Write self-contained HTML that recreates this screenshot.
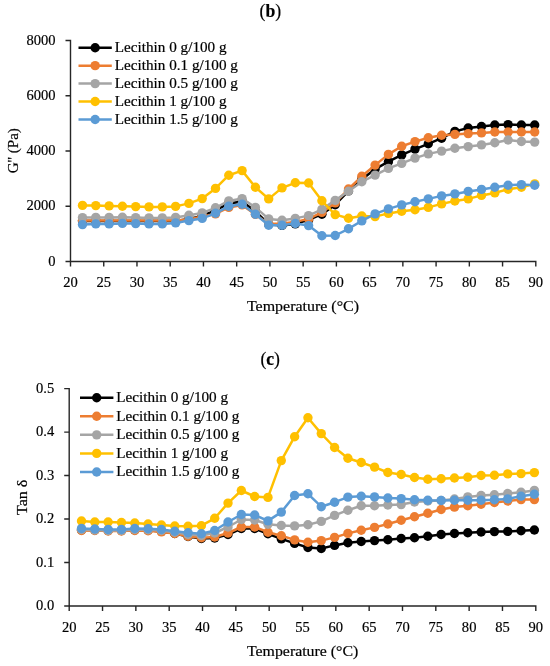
<!DOCTYPE html>
<html><head><meta charset="utf-8"><style>
html,body{margin:0;padding:0;background:#fff;width:550px;height:666px;overflow:hidden;position:relative}
</style></head><body>
<svg width="550" height="666" viewBox="0 0 550 666" style="position:absolute;left:0;top:0;will-change:transform" font-family="'Liberation Serif', serif" font-size="15.4" fill="#000">
<text stroke="#000" stroke-width="0.2" transform="translate(259.60,16.70) scale(0.9815,1)" font-size="18">(<tspan font-weight="bold">b</tspan>)</text>
<text stroke="#000" stroke-width="0.2" transform="translate(260.41,365.00) scale(0.9805,1)" font-size="18">(<tspan font-weight="bold">c</tspan>)</text>
<path d="M65.5,40.5 H70.5 V266.5 M65.5,261.5 H535.8 V266.5" fill="none" stroke="#262626" stroke-width="1.4"/>
<path d="M65.5,206.25 H70.5 M65.5,151.00 H70.5 M65.5,95.75 H70.5 M103.74,261.5 V266.5 M136.97,261.5 V266.5 M170.21,261.5 V266.5 M203.44,261.5 V266.5 M236.68,261.5 V266.5 M269.91,261.5 V266.5 M303.15,261.5 V266.5 M336.39,261.5 V266.5 M369.62,261.5 V266.5 M402.86,261.5 V266.5 M436.09,261.5 V266.5 M469.33,261.5 V266.5 M502.56,261.5 V266.5" fill="none" stroke="#262626" stroke-width="1.4"/>
<text stroke="#000" stroke-width="0.2" transform="translate(55.50,265.60) scale(0.945,1)" text-anchor="end" >0</text>
<text stroke="#000" stroke-width="0.2" transform="translate(55.50,210.35) scale(0.945,1)" text-anchor="end" >2000</text>
<text stroke="#000" stroke-width="0.2" transform="translate(55.50,155.10) scale(0.945,1)" text-anchor="end" >4000</text>
<text stroke="#000" stroke-width="0.2" transform="translate(55.50,99.85) scale(0.945,1)" text-anchor="end" >6000</text>
<text stroke="#000" stroke-width="0.2" transform="translate(55.50,44.60) scale(0.945,1)" text-anchor="end" >8000</text>
<text stroke="#000" stroke-width="0.2" transform="translate(70.50,286.70) scale(0.945,1)" text-anchor="middle" >20</text>
<text stroke="#000" stroke-width="0.2" transform="translate(103.74,286.70) scale(0.945,1)" text-anchor="middle" >25</text>
<text stroke="#000" stroke-width="0.2" transform="translate(136.97,286.70) scale(0.945,1)" text-anchor="middle" >30</text>
<text stroke="#000" stroke-width="0.2" transform="translate(170.21,286.70) scale(0.945,1)" text-anchor="middle" >35</text>
<text stroke="#000" stroke-width="0.2" transform="translate(203.44,286.70) scale(0.945,1)" text-anchor="middle" >40</text>
<text stroke="#000" stroke-width="0.2" transform="translate(236.68,286.70) scale(0.945,1)" text-anchor="middle" >45</text>
<text stroke="#000" stroke-width="0.2" transform="translate(269.91,286.70) scale(0.945,1)" text-anchor="middle" >50</text>
<text stroke="#000" stroke-width="0.2" transform="translate(303.15,286.70) scale(0.945,1)" text-anchor="middle" >55</text>
<text stroke="#000" stroke-width="0.2" transform="translate(336.39,286.70) scale(0.945,1)" text-anchor="middle" >60</text>
<text stroke="#000" stroke-width="0.2" transform="translate(369.62,286.70) scale(0.945,1)" text-anchor="middle" >65</text>
<text stroke="#000" stroke-width="0.2" transform="translate(402.86,286.70) scale(0.945,1)" text-anchor="middle" >70</text>
<text stroke="#000" stroke-width="0.2" transform="translate(436.09,286.70) scale(0.945,1)" text-anchor="middle" >75</text>
<text stroke="#000" stroke-width="0.2" transform="translate(469.33,286.70) scale(0.945,1)" text-anchor="middle" >80</text>
<text stroke="#000" stroke-width="0.2" transform="translate(502.56,286.70) scale(0.945,1)" text-anchor="middle" >85</text>
<text stroke="#000" stroke-width="0.2" transform="translate(535.80,286.70) scale(0.945,1)" text-anchor="middle" >90</text>
<polyline points="82.50,220.90 95.80,220.90 109.10,220.90 122.40,220.90 135.70,220.90 149.00,220.90 162.30,220.90 175.60,220.90 188.90,218.90 202.20,215.90 215.50,210.40 228.80,203.40 242.10,201.40 255.40,211.40 268.70,224.20 282.00,225.40 295.30,223.90 308.60,219.90 321.90,214.20 335.20,204.70 348.50,190.90 361.80,179.40 375.10,169.10 388.40,161.70 401.70,154.90 415.00,149.10 428.30,143.80 441.60,138.20 454.90,131.40 468.20,128.00 481.50,126.50 494.80,125.00 508.10,124.60 521.40,125.00 534.70,125.00" fill="none" stroke="#000000" stroke-width="2.5" stroke-linejoin="round"/><circle cx="82.50" cy="220.90" r="4.7" fill="#000000"/><circle cx="95.80" cy="220.90" r="4.7" fill="#000000"/><circle cx="109.10" cy="220.90" r="4.7" fill="#000000"/><circle cx="122.40" cy="220.90" r="4.7" fill="#000000"/><circle cx="135.70" cy="220.90" r="4.7" fill="#000000"/><circle cx="149.00" cy="220.90" r="4.7" fill="#000000"/><circle cx="162.30" cy="220.90" r="4.7" fill="#000000"/><circle cx="175.60" cy="220.90" r="4.7" fill="#000000"/><circle cx="188.90" cy="218.90" r="4.7" fill="#000000"/><circle cx="202.20" cy="215.90" r="4.7" fill="#000000"/><circle cx="215.50" cy="210.40" r="4.7" fill="#000000"/><circle cx="228.80" cy="203.40" r="4.7" fill="#000000"/><circle cx="242.10" cy="201.40" r="4.7" fill="#000000"/><circle cx="255.40" cy="211.40" r="4.7" fill="#000000"/><circle cx="268.70" cy="224.20" r="4.7" fill="#000000"/><circle cx="282.00" cy="225.40" r="4.7" fill="#000000"/><circle cx="295.30" cy="223.90" r="4.7" fill="#000000"/><circle cx="308.60" cy="219.90" r="4.7" fill="#000000"/><circle cx="321.90" cy="214.20" r="4.7" fill="#000000"/><circle cx="335.20" cy="204.70" r="4.7" fill="#000000"/><circle cx="348.50" cy="190.90" r="4.7" fill="#000000"/><circle cx="361.80" cy="179.40" r="4.7" fill="#000000"/><circle cx="375.10" cy="169.10" r="4.7" fill="#000000"/><circle cx="388.40" cy="161.70" r="4.7" fill="#000000"/><circle cx="401.70" cy="154.90" r="4.7" fill="#000000"/><circle cx="415.00" cy="149.10" r="4.7" fill="#000000"/><circle cx="428.30" cy="143.80" r="4.7" fill="#000000"/><circle cx="441.60" cy="138.20" r="4.7" fill="#000000"/><circle cx="454.90" cy="131.40" r="4.7" fill="#000000"/><circle cx="468.20" cy="128.00" r="4.7" fill="#000000"/><circle cx="481.50" cy="126.50" r="4.7" fill="#000000"/><circle cx="494.80" cy="125.00" r="4.7" fill="#000000"/><circle cx="508.10" cy="124.60" r="4.7" fill="#000000"/><circle cx="521.40" cy="125.00" r="4.7" fill="#000000"/><circle cx="534.70" cy="125.00" r="4.7" fill="#000000"/>
<polyline points="82.50,220.50 95.80,220.50 109.10,220.50 122.40,220.50 135.70,220.50 149.00,220.50 162.30,220.50 175.60,220.50 188.90,219.40 202.20,216.40 215.50,213.90 228.80,207.40 242.10,204.90 255.40,214.40 268.70,223.90 282.00,223.40 295.30,221.90 308.60,218.90 321.90,212.40 335.20,202.90 348.50,189.00 361.80,176.30 375.10,165.10 388.40,154.40 401.70,146.20 415.00,141.60 428.30,137.80 441.60,135.30 454.90,134.40 468.20,133.60 481.50,132.90 494.80,132.00 508.10,132.00 521.40,132.00 534.70,132.00" fill="none" stroke="#ED7D31" stroke-width="2.5" stroke-linejoin="round"/><circle cx="82.50" cy="220.50" r="4.7" fill="#ED7D31"/><circle cx="95.80" cy="220.50" r="4.7" fill="#ED7D31"/><circle cx="109.10" cy="220.50" r="4.7" fill="#ED7D31"/><circle cx="122.40" cy="220.50" r="4.7" fill="#ED7D31"/><circle cx="135.70" cy="220.50" r="4.7" fill="#ED7D31"/><circle cx="149.00" cy="220.50" r="4.7" fill="#ED7D31"/><circle cx="162.30" cy="220.50" r="4.7" fill="#ED7D31"/><circle cx="175.60" cy="220.50" r="4.7" fill="#ED7D31"/><circle cx="188.90" cy="219.40" r="4.7" fill="#ED7D31"/><circle cx="202.20" cy="216.40" r="4.7" fill="#ED7D31"/><circle cx="215.50" cy="213.90" r="4.7" fill="#ED7D31"/><circle cx="228.80" cy="207.40" r="4.7" fill="#ED7D31"/><circle cx="242.10" cy="204.90" r="4.7" fill="#ED7D31"/><circle cx="255.40" cy="214.40" r="4.7" fill="#ED7D31"/><circle cx="268.70" cy="223.90" r="4.7" fill="#ED7D31"/><circle cx="282.00" cy="223.40" r="4.7" fill="#ED7D31"/><circle cx="295.30" cy="221.90" r="4.7" fill="#ED7D31"/><circle cx="308.60" cy="218.90" r="4.7" fill="#ED7D31"/><circle cx="321.90" cy="212.40" r="4.7" fill="#ED7D31"/><circle cx="335.20" cy="202.90" r="4.7" fill="#ED7D31"/><circle cx="348.50" cy="189.00" r="4.7" fill="#ED7D31"/><circle cx="361.80" cy="176.30" r="4.7" fill="#ED7D31"/><circle cx="375.10" cy="165.10" r="4.7" fill="#ED7D31"/><circle cx="388.40" cy="154.40" r="4.7" fill="#ED7D31"/><circle cx="401.70" cy="146.20" r="4.7" fill="#ED7D31"/><circle cx="415.00" cy="141.60" r="4.7" fill="#ED7D31"/><circle cx="428.30" cy="137.80" r="4.7" fill="#ED7D31"/><circle cx="441.60" cy="135.30" r="4.7" fill="#ED7D31"/><circle cx="454.90" cy="134.40" r="4.7" fill="#ED7D31"/><circle cx="468.20" cy="133.60" r="4.7" fill="#ED7D31"/><circle cx="481.50" cy="132.90" r="4.7" fill="#ED7D31"/><circle cx="494.80" cy="132.00" r="4.7" fill="#ED7D31"/><circle cx="508.10" cy="132.00" r="4.7" fill="#ED7D31"/><circle cx="521.40" cy="132.00" r="4.7" fill="#ED7D31"/><circle cx="534.70" cy="132.00" r="4.7" fill="#ED7D31"/>
<polyline points="82.50,217.60 95.80,217.40 109.10,217.40 122.40,217.20 135.70,217.60 149.00,217.90 162.30,217.90 175.60,217.40 188.90,215.20 202.20,212.90 215.50,207.80 228.80,200.90 242.10,198.60 255.40,207.40 268.70,218.90 282.00,220.20 295.30,218.40 308.60,215.60 321.90,209.40 335.20,200.40 348.50,191.30 361.80,181.70 375.10,175.10 388.40,168.40 401.70,163.40 415.00,158.10 428.30,153.90 441.60,151.10 454.90,148.30 468.20,146.60 481.50,144.90 494.80,142.70 508.10,140.00 521.40,141.50 534.70,142.10" fill="none" stroke="#A5A5A5" stroke-width="2.5" stroke-linejoin="round"/><circle cx="82.50" cy="217.60" r="4.7" fill="#A5A5A5"/><circle cx="95.80" cy="217.40" r="4.7" fill="#A5A5A5"/><circle cx="109.10" cy="217.40" r="4.7" fill="#A5A5A5"/><circle cx="122.40" cy="217.20" r="4.7" fill="#A5A5A5"/><circle cx="135.70" cy="217.60" r="4.7" fill="#A5A5A5"/><circle cx="149.00" cy="217.90" r="4.7" fill="#A5A5A5"/><circle cx="162.30" cy="217.90" r="4.7" fill="#A5A5A5"/><circle cx="175.60" cy="217.40" r="4.7" fill="#A5A5A5"/><circle cx="188.90" cy="215.20" r="4.7" fill="#A5A5A5"/><circle cx="202.20" cy="212.90" r="4.7" fill="#A5A5A5"/><circle cx="215.50" cy="207.80" r="4.7" fill="#A5A5A5"/><circle cx="228.80" cy="200.90" r="4.7" fill="#A5A5A5"/><circle cx="242.10" cy="198.60" r="4.7" fill="#A5A5A5"/><circle cx="255.40" cy="207.40" r="4.7" fill="#A5A5A5"/><circle cx="268.70" cy="218.90" r="4.7" fill="#A5A5A5"/><circle cx="282.00" cy="220.20" r="4.7" fill="#A5A5A5"/><circle cx="295.30" cy="218.40" r="4.7" fill="#A5A5A5"/><circle cx="308.60" cy="215.60" r="4.7" fill="#A5A5A5"/><circle cx="321.90" cy="209.40" r="4.7" fill="#A5A5A5"/><circle cx="335.20" cy="200.40" r="4.7" fill="#A5A5A5"/><circle cx="348.50" cy="191.30" r="4.7" fill="#A5A5A5"/><circle cx="361.80" cy="181.70" r="4.7" fill="#A5A5A5"/><circle cx="375.10" cy="175.10" r="4.7" fill="#A5A5A5"/><circle cx="388.40" cy="168.40" r="4.7" fill="#A5A5A5"/><circle cx="401.70" cy="163.40" r="4.7" fill="#A5A5A5"/><circle cx="415.00" cy="158.10" r="4.7" fill="#A5A5A5"/><circle cx="428.30" cy="153.90" r="4.7" fill="#A5A5A5"/><circle cx="441.60" cy="151.10" r="4.7" fill="#A5A5A5"/><circle cx="454.90" cy="148.30" r="4.7" fill="#A5A5A5"/><circle cx="468.20" cy="146.60" r="4.7" fill="#A5A5A5"/><circle cx="481.50" cy="144.90" r="4.7" fill="#A5A5A5"/><circle cx="494.80" cy="142.70" r="4.7" fill="#A5A5A5"/><circle cx="508.10" cy="140.00" r="4.7" fill="#A5A5A5"/><circle cx="521.40" cy="141.50" r="4.7" fill="#A5A5A5"/><circle cx="534.70" cy="142.10" r="4.7" fill="#A5A5A5"/>
<polyline points="82.50,205.40 95.80,205.60 109.10,205.90 122.40,206.20 135.70,206.60 149.00,206.90 162.30,206.90 175.60,206.40 188.90,203.40 202.20,198.60 215.50,188.40 228.80,175.20 242.10,170.60 255.40,187.30 268.70,198.90 282.00,187.90 295.30,182.80 308.60,183.00 321.90,200.80 335.20,214.60 348.50,218.30 361.80,216.00 375.10,216.60 388.40,213.40 401.70,211.20 415.00,209.70 428.30,207.40 441.60,203.90 454.90,201.00 468.20,198.90 481.50,195.40 494.80,192.90 508.10,189.20 521.40,187.20 534.70,183.90" fill="none" stroke="#FFC000" stroke-width="2.5" stroke-linejoin="round"/><circle cx="82.50" cy="205.40" r="4.7" fill="#FFC000"/><circle cx="95.80" cy="205.60" r="4.7" fill="#FFC000"/><circle cx="109.10" cy="205.90" r="4.7" fill="#FFC000"/><circle cx="122.40" cy="206.20" r="4.7" fill="#FFC000"/><circle cx="135.70" cy="206.60" r="4.7" fill="#FFC000"/><circle cx="149.00" cy="206.90" r="4.7" fill="#FFC000"/><circle cx="162.30" cy="206.90" r="4.7" fill="#FFC000"/><circle cx="175.60" cy="206.40" r="4.7" fill="#FFC000"/><circle cx="188.90" cy="203.40" r="4.7" fill="#FFC000"/><circle cx="202.20" cy="198.60" r="4.7" fill="#FFC000"/><circle cx="215.50" cy="188.40" r="4.7" fill="#FFC000"/><circle cx="228.80" cy="175.20" r="4.7" fill="#FFC000"/><circle cx="242.10" cy="170.60" r="4.7" fill="#FFC000"/><circle cx="255.40" cy="187.30" r="4.7" fill="#FFC000"/><circle cx="268.70" cy="198.90" r="4.7" fill="#FFC000"/><circle cx="282.00" cy="187.90" r="4.7" fill="#FFC000"/><circle cx="295.30" cy="182.80" r="4.7" fill="#FFC000"/><circle cx="308.60" cy="183.00" r="4.7" fill="#FFC000"/><circle cx="321.90" cy="200.80" r="4.7" fill="#FFC000"/><circle cx="335.20" cy="214.60" r="4.7" fill="#FFC000"/><circle cx="348.50" cy="218.30" r="4.7" fill="#FFC000"/><circle cx="361.80" cy="216.00" r="4.7" fill="#FFC000"/><circle cx="375.10" cy="216.60" r="4.7" fill="#FFC000"/><circle cx="388.40" cy="213.40" r="4.7" fill="#FFC000"/><circle cx="401.70" cy="211.20" r="4.7" fill="#FFC000"/><circle cx="415.00" cy="209.70" r="4.7" fill="#FFC000"/><circle cx="428.30" cy="207.40" r="4.7" fill="#FFC000"/><circle cx="441.60" cy="203.90" r="4.7" fill="#FFC000"/><circle cx="454.90" cy="201.00" r="4.7" fill="#FFC000"/><circle cx="468.20" cy="198.90" r="4.7" fill="#FFC000"/><circle cx="481.50" cy="195.40" r="4.7" fill="#FFC000"/><circle cx="494.80" cy="192.90" r="4.7" fill="#FFC000"/><circle cx="508.10" cy="189.20" r="4.7" fill="#FFC000"/><circle cx="521.40" cy="187.20" r="4.7" fill="#FFC000"/><circle cx="534.70" cy="183.90" r="4.7" fill="#FFC000"/>
<polyline points="82.50,224.60 95.80,223.90 109.10,223.90 122.40,223.40 135.70,223.60 149.00,223.90 162.30,223.90 175.60,222.90 188.90,220.60 202.20,218.40 215.50,213.30 228.80,206.20 242.10,204.30 255.40,214.20 268.70,225.20 282.00,225.20 295.30,223.50 308.60,225.60 321.90,235.70 335.20,235.50 348.50,228.80 361.80,220.90 375.10,213.90 388.40,208.90 401.70,204.90 415.00,201.70 428.30,198.90 441.60,195.90 454.90,193.90 468.20,191.40 481.50,189.40 494.80,187.30 508.10,185.20 521.40,184.60 534.70,185.20" fill="none" stroke="#5B9BD5" stroke-width="2.5" stroke-linejoin="round"/><circle cx="82.50" cy="224.60" r="4.7" fill="#5B9BD5"/><circle cx="95.80" cy="223.90" r="4.7" fill="#5B9BD5"/><circle cx="109.10" cy="223.90" r="4.7" fill="#5B9BD5"/><circle cx="122.40" cy="223.40" r="4.7" fill="#5B9BD5"/><circle cx="135.70" cy="223.60" r="4.7" fill="#5B9BD5"/><circle cx="149.00" cy="223.90" r="4.7" fill="#5B9BD5"/><circle cx="162.30" cy="223.90" r="4.7" fill="#5B9BD5"/><circle cx="175.60" cy="222.90" r="4.7" fill="#5B9BD5"/><circle cx="188.90" cy="220.60" r="4.7" fill="#5B9BD5"/><circle cx="202.20" cy="218.40" r="4.7" fill="#5B9BD5"/><circle cx="215.50" cy="213.30" r="4.7" fill="#5B9BD5"/><circle cx="228.80" cy="206.20" r="4.7" fill="#5B9BD5"/><circle cx="242.10" cy="204.30" r="4.7" fill="#5B9BD5"/><circle cx="255.40" cy="214.20" r="4.7" fill="#5B9BD5"/><circle cx="268.70" cy="225.20" r="4.7" fill="#5B9BD5"/><circle cx="282.00" cy="225.20" r="4.7" fill="#5B9BD5"/><circle cx="295.30" cy="223.50" r="4.7" fill="#5B9BD5"/><circle cx="308.60" cy="225.60" r="4.7" fill="#5B9BD5"/><circle cx="321.90" cy="235.70" r="4.7" fill="#5B9BD5"/><circle cx="335.20" cy="235.50" r="4.7" fill="#5B9BD5"/><circle cx="348.50" cy="228.80" r="4.7" fill="#5B9BD5"/><circle cx="361.80" cy="220.90" r="4.7" fill="#5B9BD5"/><circle cx="375.10" cy="213.90" r="4.7" fill="#5B9BD5"/><circle cx="388.40" cy="208.90" r="4.7" fill="#5B9BD5"/><circle cx="401.70" cy="204.90" r="4.7" fill="#5B9BD5"/><circle cx="415.00" cy="201.70" r="4.7" fill="#5B9BD5"/><circle cx="428.30" cy="198.90" r="4.7" fill="#5B9BD5"/><circle cx="441.60" cy="195.90" r="4.7" fill="#5B9BD5"/><circle cx="454.90" cy="193.90" r="4.7" fill="#5B9BD5"/><circle cx="468.20" cy="191.40" r="4.7" fill="#5B9BD5"/><circle cx="481.50" cy="189.40" r="4.7" fill="#5B9BD5"/><circle cx="494.80" cy="187.30" r="4.7" fill="#5B9BD5"/><circle cx="508.10" cy="185.20" r="4.7" fill="#5B9BD5"/><circle cx="521.40" cy="184.60" r="4.7" fill="#5B9BD5"/><circle cx="534.70" cy="185.20" r="4.7" fill="#5B9BD5"/>
<path d="M64.2,388.6 H69.2 V611.0 M64.2,606.0 H535.8 V611.0" fill="none" stroke="#262626" stroke-width="1.4"/>
<path d="M64.2,562.52 H69.2 M64.2,519.04 H69.2 M64.2,475.56 H69.2 M64.2,432.08 H69.2 M102.53,606.0 V611.0 M135.86,606.0 V611.0 M169.19,606.0 V611.0 M202.51,606.0 V611.0 M235.84,606.0 V611.0 M269.17,606.0 V611.0 M302.50,606.0 V611.0 M335.83,606.0 V611.0 M369.16,606.0 V611.0 M402.49,606.0 V611.0 M435.81,606.0 V611.0 M469.14,606.0 V611.0 M502.47,606.0 V611.0" fill="none" stroke="#262626" stroke-width="1.4"/>
<text stroke="#000" stroke-width="0.2" transform="translate(54.20,610.10) scale(0.945,1)" text-anchor="end" >0.0</text>
<text stroke="#000" stroke-width="0.2" transform="translate(54.20,566.62) scale(0.945,1)" text-anchor="end" >0.1</text>
<text stroke="#000" stroke-width="0.2" transform="translate(54.20,523.14) scale(0.945,1)" text-anchor="end" >0.2</text>
<text stroke="#000" stroke-width="0.2" transform="translate(54.20,479.66) scale(0.945,1)" text-anchor="end" >0.3</text>
<text stroke="#000" stroke-width="0.2" transform="translate(54.20,436.18) scale(0.945,1)" text-anchor="end" >0.4</text>
<text stroke="#000" stroke-width="0.2" transform="translate(54.20,392.70) scale(0.945,1)" text-anchor="end" >0.5</text>
<text stroke="#000" stroke-width="0.2" transform="translate(69.20,632.10) scale(0.945,1)" text-anchor="middle" >20</text>
<text stroke="#000" stroke-width="0.2" transform="translate(102.53,632.10) scale(0.945,1)" text-anchor="middle" >25</text>
<text stroke="#000" stroke-width="0.2" transform="translate(135.86,632.10) scale(0.945,1)" text-anchor="middle" >30</text>
<text stroke="#000" stroke-width="0.2" transform="translate(169.19,632.10) scale(0.945,1)" text-anchor="middle" >35</text>
<text stroke="#000" stroke-width="0.2" transform="translate(202.51,632.10) scale(0.945,1)" text-anchor="middle" >40</text>
<text stroke="#000" stroke-width="0.2" transform="translate(235.84,632.10) scale(0.945,1)" text-anchor="middle" >45</text>
<text stroke="#000" stroke-width="0.2" transform="translate(269.17,632.10) scale(0.945,1)" text-anchor="middle" >50</text>
<text stroke="#000" stroke-width="0.2" transform="translate(302.50,632.10) scale(0.945,1)" text-anchor="middle" >55</text>
<text stroke="#000" stroke-width="0.2" transform="translate(335.83,632.10) scale(0.945,1)" text-anchor="middle" >60</text>
<text stroke="#000" stroke-width="0.2" transform="translate(369.16,632.10) scale(0.945,1)" text-anchor="middle" >65</text>
<text stroke="#000" stroke-width="0.2" transform="translate(402.49,632.10) scale(0.945,1)" text-anchor="middle" >70</text>
<text stroke="#000" stroke-width="0.2" transform="translate(435.81,632.10) scale(0.945,1)" text-anchor="middle" >75</text>
<text stroke="#000" stroke-width="0.2" transform="translate(469.14,632.10) scale(0.945,1)" text-anchor="middle" >80</text>
<text stroke="#000" stroke-width="0.2" transform="translate(502.47,632.10) scale(0.945,1)" text-anchor="middle" >85</text>
<text stroke="#000" stroke-width="0.2" transform="translate(535.80,632.10) scale(0.945,1)" text-anchor="middle" >90</text>
<polyline points="81.50,530.00 94.82,530.00 108.14,530.50 121.46,530.50 134.78,530.00 148.10,530.30 161.42,531.40 174.74,533.50 188.06,536.50 201.38,538.50 214.70,538.00 228.02,534.50 241.34,528.50 254.66,528.50 267.98,533.80 281.30,538.90 294.62,543.40 307.94,547.50 321.26,548.50 334.58,545.40 347.90,542.80 361.22,541.50 374.54,540.60 387.86,539.70 401.18,538.50 414.50,537.70 427.82,536.30 441.14,534.50 454.46,533.50 467.78,532.70 481.10,532.00 494.42,531.60 507.74,531.40 521.06,530.70 534.38,530.00" fill="none" stroke="#000000" stroke-width="2.5" stroke-linejoin="round"/><circle cx="81.50" cy="530.00" r="4.7" fill="#000000"/><circle cx="94.82" cy="530.00" r="4.7" fill="#000000"/><circle cx="108.14" cy="530.50" r="4.7" fill="#000000"/><circle cx="121.46" cy="530.50" r="4.7" fill="#000000"/><circle cx="134.78" cy="530.00" r="4.7" fill="#000000"/><circle cx="148.10" cy="530.30" r="4.7" fill="#000000"/><circle cx="161.42" cy="531.40" r="4.7" fill="#000000"/><circle cx="174.74" cy="533.50" r="4.7" fill="#000000"/><circle cx="188.06" cy="536.50" r="4.7" fill="#000000"/><circle cx="201.38" cy="538.50" r="4.7" fill="#000000"/><circle cx="214.70" cy="538.00" r="4.7" fill="#000000"/><circle cx="228.02" cy="534.50" r="4.7" fill="#000000"/><circle cx="241.34" cy="528.50" r="4.7" fill="#000000"/><circle cx="254.66" cy="528.50" r="4.7" fill="#000000"/><circle cx="267.98" cy="533.80" r="4.7" fill="#000000"/><circle cx="281.30" cy="538.90" r="4.7" fill="#000000"/><circle cx="294.62" cy="543.40" r="4.7" fill="#000000"/><circle cx="307.94" cy="547.50" r="4.7" fill="#000000"/><circle cx="321.26" cy="548.50" r="4.7" fill="#000000"/><circle cx="334.58" cy="545.40" r="4.7" fill="#000000"/><circle cx="347.90" cy="542.80" r="4.7" fill="#000000"/><circle cx="361.22" cy="541.50" r="4.7" fill="#000000"/><circle cx="374.54" cy="540.60" r="4.7" fill="#000000"/><circle cx="387.86" cy="539.70" r="4.7" fill="#000000"/><circle cx="401.18" cy="538.50" r="4.7" fill="#000000"/><circle cx="414.50" cy="537.70" r="4.7" fill="#000000"/><circle cx="427.82" cy="536.30" r="4.7" fill="#000000"/><circle cx="441.14" cy="534.50" r="4.7" fill="#000000"/><circle cx="454.46" cy="533.50" r="4.7" fill="#000000"/><circle cx="467.78" cy="532.70" r="4.7" fill="#000000"/><circle cx="481.10" cy="532.00" r="4.7" fill="#000000"/><circle cx="494.42" cy="531.60" r="4.7" fill="#000000"/><circle cx="507.74" cy="531.40" r="4.7" fill="#000000"/><circle cx="521.06" cy="530.70" r="4.7" fill="#000000"/><circle cx="534.38" cy="530.00" r="4.7" fill="#000000"/>
<polyline points="81.50,530.50 94.82,530.50 108.14,531.00 121.46,531.00 134.78,530.50 148.10,530.80 161.42,531.90 174.74,533.50 188.06,536.20 201.38,537.80 214.70,537.00 228.02,533.00 241.34,527.00 254.66,527.00 267.98,532.20 281.30,535.70 294.62,539.90 307.94,542.20 321.26,540.60 334.58,537.40 347.90,533.40 361.22,530.20 374.54,527.40 387.86,524.00 401.18,520.20 414.50,516.80 427.82,513.20 441.14,509.50 454.46,507.10 467.78,505.70 481.10,504.30 494.42,502.50 507.74,501.00 521.06,499.60 534.38,499.60" fill="none" stroke="#ED7D31" stroke-width="2.5" stroke-linejoin="round"/><circle cx="81.50" cy="530.50" r="4.7" fill="#ED7D31"/><circle cx="94.82" cy="530.50" r="4.7" fill="#ED7D31"/><circle cx="108.14" cy="531.00" r="4.7" fill="#ED7D31"/><circle cx="121.46" cy="531.00" r="4.7" fill="#ED7D31"/><circle cx="134.78" cy="530.50" r="4.7" fill="#ED7D31"/><circle cx="148.10" cy="530.80" r="4.7" fill="#ED7D31"/><circle cx="161.42" cy="531.90" r="4.7" fill="#ED7D31"/><circle cx="174.74" cy="533.50" r="4.7" fill="#ED7D31"/><circle cx="188.06" cy="536.20" r="4.7" fill="#ED7D31"/><circle cx="201.38" cy="537.80" r="4.7" fill="#ED7D31"/><circle cx="214.70" cy="537.00" r="4.7" fill="#ED7D31"/><circle cx="228.02" cy="533.00" r="4.7" fill="#ED7D31"/><circle cx="241.34" cy="527.00" r="4.7" fill="#ED7D31"/><circle cx="254.66" cy="527.00" r="4.7" fill="#ED7D31"/><circle cx="267.98" cy="532.20" r="4.7" fill="#ED7D31"/><circle cx="281.30" cy="535.70" r="4.7" fill="#ED7D31"/><circle cx="294.62" cy="539.90" r="4.7" fill="#ED7D31"/><circle cx="307.94" cy="542.20" r="4.7" fill="#ED7D31"/><circle cx="321.26" cy="540.60" r="4.7" fill="#ED7D31"/><circle cx="334.58" cy="537.40" r="4.7" fill="#ED7D31"/><circle cx="347.90" cy="533.40" r="4.7" fill="#ED7D31"/><circle cx="361.22" cy="530.20" r="4.7" fill="#ED7D31"/><circle cx="374.54" cy="527.40" r="4.7" fill="#ED7D31"/><circle cx="387.86" cy="524.00" r="4.7" fill="#ED7D31"/><circle cx="401.18" cy="520.20" r="4.7" fill="#ED7D31"/><circle cx="414.50" cy="516.80" r="4.7" fill="#ED7D31"/><circle cx="427.82" cy="513.20" r="4.7" fill="#ED7D31"/><circle cx="441.14" cy="509.50" r="4.7" fill="#ED7D31"/><circle cx="454.46" cy="507.10" r="4.7" fill="#ED7D31"/><circle cx="467.78" cy="505.70" r="4.7" fill="#ED7D31"/><circle cx="481.10" cy="504.30" r="4.7" fill="#ED7D31"/><circle cx="494.42" cy="502.50" r="4.7" fill="#ED7D31"/><circle cx="507.74" cy="501.00" r="4.7" fill="#ED7D31"/><circle cx="521.06" cy="499.60" r="4.7" fill="#ED7D31"/><circle cx="534.38" cy="499.60" r="4.7" fill="#ED7D31"/>
<polyline points="81.50,529.50 94.82,530.00 108.14,530.50 121.46,530.50 134.78,529.50 148.10,529.80 161.42,530.50 174.74,532.20 188.06,534.50 201.38,535.50 214.70,533.00 228.02,527.00 241.34,519.50 254.66,520.00 267.98,524.30 281.30,525.50 294.62,525.90 307.94,524.80 321.26,521.40 334.58,515.40 347.90,510.20 361.22,505.80 374.54,505.80 387.86,505.00 401.18,504.60 414.50,502.00 427.82,501.00 441.14,500.50 454.46,499.00 467.78,496.90 481.10,495.50 494.42,494.70 507.74,493.50 521.06,492.20 534.38,490.40" fill="none" stroke="#A5A5A5" stroke-width="2.5" stroke-linejoin="round"/><circle cx="81.50" cy="529.50" r="4.7" fill="#A5A5A5"/><circle cx="94.82" cy="530.00" r="4.7" fill="#A5A5A5"/><circle cx="108.14" cy="530.50" r="4.7" fill="#A5A5A5"/><circle cx="121.46" cy="530.50" r="4.7" fill="#A5A5A5"/><circle cx="134.78" cy="529.50" r="4.7" fill="#A5A5A5"/><circle cx="148.10" cy="529.80" r="4.7" fill="#A5A5A5"/><circle cx="161.42" cy="530.50" r="4.7" fill="#A5A5A5"/><circle cx="174.74" cy="532.20" r="4.7" fill="#A5A5A5"/><circle cx="188.06" cy="534.50" r="4.7" fill="#A5A5A5"/><circle cx="201.38" cy="535.50" r="4.7" fill="#A5A5A5"/><circle cx="214.70" cy="533.00" r="4.7" fill="#A5A5A5"/><circle cx="228.02" cy="527.00" r="4.7" fill="#A5A5A5"/><circle cx="241.34" cy="519.50" r="4.7" fill="#A5A5A5"/><circle cx="254.66" cy="520.00" r="4.7" fill="#A5A5A5"/><circle cx="267.98" cy="524.30" r="4.7" fill="#A5A5A5"/><circle cx="281.30" cy="525.50" r="4.7" fill="#A5A5A5"/><circle cx="294.62" cy="525.90" r="4.7" fill="#A5A5A5"/><circle cx="307.94" cy="524.80" r="4.7" fill="#A5A5A5"/><circle cx="321.26" cy="521.40" r="4.7" fill="#A5A5A5"/><circle cx="334.58" cy="515.40" r="4.7" fill="#A5A5A5"/><circle cx="347.90" cy="510.20" r="4.7" fill="#A5A5A5"/><circle cx="361.22" cy="505.80" r="4.7" fill="#A5A5A5"/><circle cx="374.54" cy="505.80" r="4.7" fill="#A5A5A5"/><circle cx="387.86" cy="505.00" r="4.7" fill="#A5A5A5"/><circle cx="401.18" cy="504.60" r="4.7" fill="#A5A5A5"/><circle cx="414.50" cy="502.00" r="4.7" fill="#A5A5A5"/><circle cx="427.82" cy="501.00" r="4.7" fill="#A5A5A5"/><circle cx="441.14" cy="500.50" r="4.7" fill="#A5A5A5"/><circle cx="454.46" cy="499.00" r="4.7" fill="#A5A5A5"/><circle cx="467.78" cy="496.90" r="4.7" fill="#A5A5A5"/><circle cx="481.10" cy="495.50" r="4.7" fill="#A5A5A5"/><circle cx="494.42" cy="494.70" r="4.7" fill="#A5A5A5"/><circle cx="507.74" cy="493.50" r="4.7" fill="#A5A5A5"/><circle cx="521.06" cy="492.20" r="4.7" fill="#A5A5A5"/><circle cx="534.38" cy="490.40" r="4.7" fill="#A5A5A5"/>
<polyline points="81.50,521.00 94.82,522.00 108.14,522.00 121.46,522.50 134.78,523.00 148.10,524.00 161.42,525.00 174.74,526.00 188.06,526.30 201.38,525.70 214.70,518.30 228.02,503.10 241.34,490.50 254.66,496.50 267.98,497.40 281.30,460.60 294.62,436.70 307.94,417.70 321.26,433.60 334.58,447.50 347.90,458.20 361.22,462.50 374.54,467.10 387.86,472.50 401.18,474.50 414.50,477.50 427.82,479.20 441.14,478.80 454.46,478.00 467.78,477.30 481.10,475.50 494.42,475.20 507.74,473.90 521.06,473.60 534.38,472.60" fill="none" stroke="#FFC000" stroke-width="2.5" stroke-linejoin="round"/><circle cx="81.50" cy="521.00" r="4.7" fill="#FFC000"/><circle cx="94.82" cy="522.00" r="4.7" fill="#FFC000"/><circle cx="108.14" cy="522.00" r="4.7" fill="#FFC000"/><circle cx="121.46" cy="522.50" r="4.7" fill="#FFC000"/><circle cx="134.78" cy="523.00" r="4.7" fill="#FFC000"/><circle cx="148.10" cy="524.00" r="4.7" fill="#FFC000"/><circle cx="161.42" cy="525.00" r="4.7" fill="#FFC000"/><circle cx="174.74" cy="526.00" r="4.7" fill="#FFC000"/><circle cx="188.06" cy="526.30" r="4.7" fill="#FFC000"/><circle cx="201.38" cy="525.70" r="4.7" fill="#FFC000"/><circle cx="214.70" cy="518.30" r="4.7" fill="#FFC000"/><circle cx="228.02" cy="503.10" r="4.7" fill="#FFC000"/><circle cx="241.34" cy="490.50" r="4.7" fill="#FFC000"/><circle cx="254.66" cy="496.50" r="4.7" fill="#FFC000"/><circle cx="267.98" cy="497.40" r="4.7" fill="#FFC000"/><circle cx="281.30" cy="460.60" r="4.7" fill="#FFC000"/><circle cx="294.62" cy="436.70" r="4.7" fill="#FFC000"/><circle cx="307.94" cy="417.70" r="4.7" fill="#FFC000"/><circle cx="321.26" cy="433.60" r="4.7" fill="#FFC000"/><circle cx="334.58" cy="447.50" r="4.7" fill="#FFC000"/><circle cx="347.90" cy="458.20" r="4.7" fill="#FFC000"/><circle cx="361.22" cy="462.50" r="4.7" fill="#FFC000"/><circle cx="374.54" cy="467.10" r="4.7" fill="#FFC000"/><circle cx="387.86" cy="472.50" r="4.7" fill="#FFC000"/><circle cx="401.18" cy="474.50" r="4.7" fill="#FFC000"/><circle cx="414.50" cy="477.50" r="4.7" fill="#FFC000"/><circle cx="427.82" cy="479.20" r="4.7" fill="#FFC000"/><circle cx="441.14" cy="478.80" r="4.7" fill="#FFC000"/><circle cx="454.46" cy="478.00" r="4.7" fill="#FFC000"/><circle cx="467.78" cy="477.30" r="4.7" fill="#FFC000"/><circle cx="481.10" cy="475.50" r="4.7" fill="#FFC000"/><circle cx="494.42" cy="475.20" r="4.7" fill="#FFC000"/><circle cx="507.74" cy="473.90" r="4.7" fill="#FFC000"/><circle cx="521.06" cy="473.60" r="4.7" fill="#FFC000"/><circle cx="534.38" cy="472.60" r="4.7" fill="#FFC000"/>
<polyline points="81.50,528.50 94.82,529.00 108.14,529.50 121.46,529.50 134.78,528.50 148.10,528.80 161.42,529.50 174.74,531.20 188.06,532.70 201.38,533.70 214.70,530.50 228.02,522.00 241.34,514.50 254.66,515.00 267.98,520.90 281.30,512.10 294.62,495.50 307.94,493.80 321.26,506.70 334.58,502.20 347.90,497.10 361.22,496.20 374.54,496.90 387.86,498.00 401.18,498.60 414.50,499.70 427.82,500.30 441.14,500.50 454.46,500.20 467.78,500.30 481.10,500.30 494.42,499.80 507.74,498.90 521.06,496.20 534.38,494.30" fill="none" stroke="#5B9BD5" stroke-width="2.5" stroke-linejoin="round"/><circle cx="81.50" cy="528.50" r="4.7" fill="#5B9BD5"/><circle cx="94.82" cy="529.00" r="4.7" fill="#5B9BD5"/><circle cx="108.14" cy="529.50" r="4.7" fill="#5B9BD5"/><circle cx="121.46" cy="529.50" r="4.7" fill="#5B9BD5"/><circle cx="134.78" cy="528.50" r="4.7" fill="#5B9BD5"/><circle cx="148.10" cy="528.80" r="4.7" fill="#5B9BD5"/><circle cx="161.42" cy="529.50" r="4.7" fill="#5B9BD5"/><circle cx="174.74" cy="531.20" r="4.7" fill="#5B9BD5"/><circle cx="188.06" cy="532.70" r="4.7" fill="#5B9BD5"/><circle cx="201.38" cy="533.70" r="4.7" fill="#5B9BD5"/><circle cx="214.70" cy="530.50" r="4.7" fill="#5B9BD5"/><circle cx="228.02" cy="522.00" r="4.7" fill="#5B9BD5"/><circle cx="241.34" cy="514.50" r="4.7" fill="#5B9BD5"/><circle cx="254.66" cy="515.00" r="4.7" fill="#5B9BD5"/><circle cx="267.98" cy="520.90" r="4.7" fill="#5B9BD5"/><circle cx="281.30" cy="512.10" r="4.7" fill="#5B9BD5"/><circle cx="294.62" cy="495.50" r="4.7" fill="#5B9BD5"/><circle cx="307.94" cy="493.80" r="4.7" fill="#5B9BD5"/><circle cx="321.26" cy="506.70" r="4.7" fill="#5B9BD5"/><circle cx="334.58" cy="502.20" r="4.7" fill="#5B9BD5"/><circle cx="347.90" cy="497.10" r="4.7" fill="#5B9BD5"/><circle cx="361.22" cy="496.20" r="4.7" fill="#5B9BD5"/><circle cx="374.54" cy="496.90" r="4.7" fill="#5B9BD5"/><circle cx="387.86" cy="498.00" r="4.7" fill="#5B9BD5"/><circle cx="401.18" cy="498.60" r="4.7" fill="#5B9BD5"/><circle cx="414.50" cy="499.70" r="4.7" fill="#5B9BD5"/><circle cx="427.82" cy="500.30" r="4.7" fill="#5B9BD5"/><circle cx="441.14" cy="500.50" r="4.7" fill="#5B9BD5"/><circle cx="454.46" cy="500.20" r="4.7" fill="#5B9BD5"/><circle cx="467.78" cy="500.30" r="4.7" fill="#5B9BD5"/><circle cx="481.10" cy="500.30" r="4.7" fill="#5B9BD5"/><circle cx="494.42" cy="499.80" r="4.7" fill="#5B9BD5"/><circle cx="507.74" cy="498.90" r="4.7" fill="#5B9BD5"/><circle cx="521.06" cy="496.20" r="4.7" fill="#5B9BD5"/><circle cx="534.38" cy="494.30" r="4.7" fill="#5B9BD5"/>
<line x1="78.5" y1="47.70" x2="111.8" y2="47.70" stroke="#000000" stroke-width="2.5"/>
<circle cx="95.15" cy="47.70" r="4.7" fill="#000000"/>
<text stroke="#000" stroke-width="0.2" transform="translate(114.84,51.70) scale(1.1004,1)" font-size="13.8" >Lecithin 0 g/100 g</text>
<line x1="78.5" y1="65.65" x2="111.8" y2="65.65" stroke="#ED7D31" stroke-width="2.5"/>
<circle cx="95.15" cy="65.65" r="4.7" fill="#ED7D31"/>
<text stroke="#000" stroke-width="0.2" transform="translate(114.84,69.65) scale(1.1004,1)" font-size="13.8" >Lecithin 0.1 g/100 g</text>
<line x1="78.5" y1="83.60" x2="111.8" y2="83.60" stroke="#A5A5A5" stroke-width="2.5"/>
<circle cx="95.15" cy="83.60" r="4.7" fill="#A5A5A5"/>
<text stroke="#000" stroke-width="0.2" transform="translate(114.84,87.60) scale(1.1004,1)" font-size="13.8" >Lecithin 0.5 g/100 g</text>
<line x1="78.5" y1="101.55" x2="111.8" y2="101.55" stroke="#FFC000" stroke-width="2.5"/>
<circle cx="95.15" cy="101.55" r="4.7" fill="#FFC000"/>
<text stroke="#000" stroke-width="0.2" transform="translate(114.84,105.55) scale(1.1004,1)" font-size="13.8" >Lecithin 1 g/100 g</text>
<line x1="78.5" y1="119.50" x2="111.8" y2="119.50" stroke="#5B9BD5" stroke-width="2.5"/>
<circle cx="95.15" cy="119.50" r="4.7" fill="#5B9BD5"/>
<text stroke="#000" stroke-width="0.2" transform="translate(114.84,123.50) scale(1.1004,1)" font-size="13.8" >Lecithin 1.5 g/100 g</text>
<line x1="80" y1="397.70" x2="113.4" y2="397.70" stroke="#000000" stroke-width="2.5"/>
<circle cx="96.70" cy="397.70" r="4.7" fill="#000000"/>
<text stroke="#000" stroke-width="0.2" transform="translate(116.34,402.00) scale(1.0934,1)" font-size="13.9" >Lecithin 0 g/100 g</text>
<line x1="80" y1="416.27" x2="113.4" y2="416.27" stroke="#ED7D31" stroke-width="2.5"/>
<circle cx="96.70" cy="416.27" r="4.7" fill="#ED7D31"/>
<text stroke="#000" stroke-width="0.2" transform="translate(116.34,420.57) scale(1.0934,1)" font-size="13.9" >Lecithin 0.1 g/100 g</text>
<line x1="80" y1="434.84" x2="113.4" y2="434.84" stroke="#A5A5A5" stroke-width="2.5"/>
<circle cx="96.70" cy="434.84" r="4.7" fill="#A5A5A5"/>
<text stroke="#000" stroke-width="0.2" transform="translate(116.34,439.14) scale(1.0934,1)" font-size="13.9" >Lecithin 0.5 g/100 g</text>
<line x1="80" y1="453.41" x2="113.4" y2="453.41" stroke="#FFC000" stroke-width="2.5"/>
<circle cx="96.70" cy="453.41" r="4.7" fill="#FFC000"/>
<text stroke="#000" stroke-width="0.2" transform="translate(116.34,457.71) scale(1.0934,1)" font-size="13.9" >Lecithin 1 g/100 g</text>
<line x1="80" y1="471.98" x2="113.4" y2="471.98" stroke="#5B9BD5" stroke-width="2.5"/>
<circle cx="96.70" cy="471.98" r="4.7" fill="#5B9BD5"/>
<text stroke="#000" stroke-width="0.2" transform="translate(116.34,476.28) scale(1.0934,1)" font-size="13.9" >Lecithin 1.5 g/100 g</text>
<text stroke="#000" stroke-width="0.2" transform="translate(246.98,310.80) scale(1.0795,1)" font-size="14.8" >Temperature (°C)</text>
<text stroke="#000" stroke-width="0.2" transform="translate(246.98,656.10) scale(1.0727,1)" font-size="14.8" >Temperature (°C)</text>
<text stroke="#000" stroke-width="0.2" transform="translate(17.70,173.30) rotate(-90) scale(0.9974,1)" font-size="15.1">G'' (Pa)</text>
<text stroke="#000" stroke-width="0.2" transform="translate(27.10,515.02) rotate(-90) scale(1.0420,1)" font-size="15.4">Tan δ</text>
</svg>
</body></html>
